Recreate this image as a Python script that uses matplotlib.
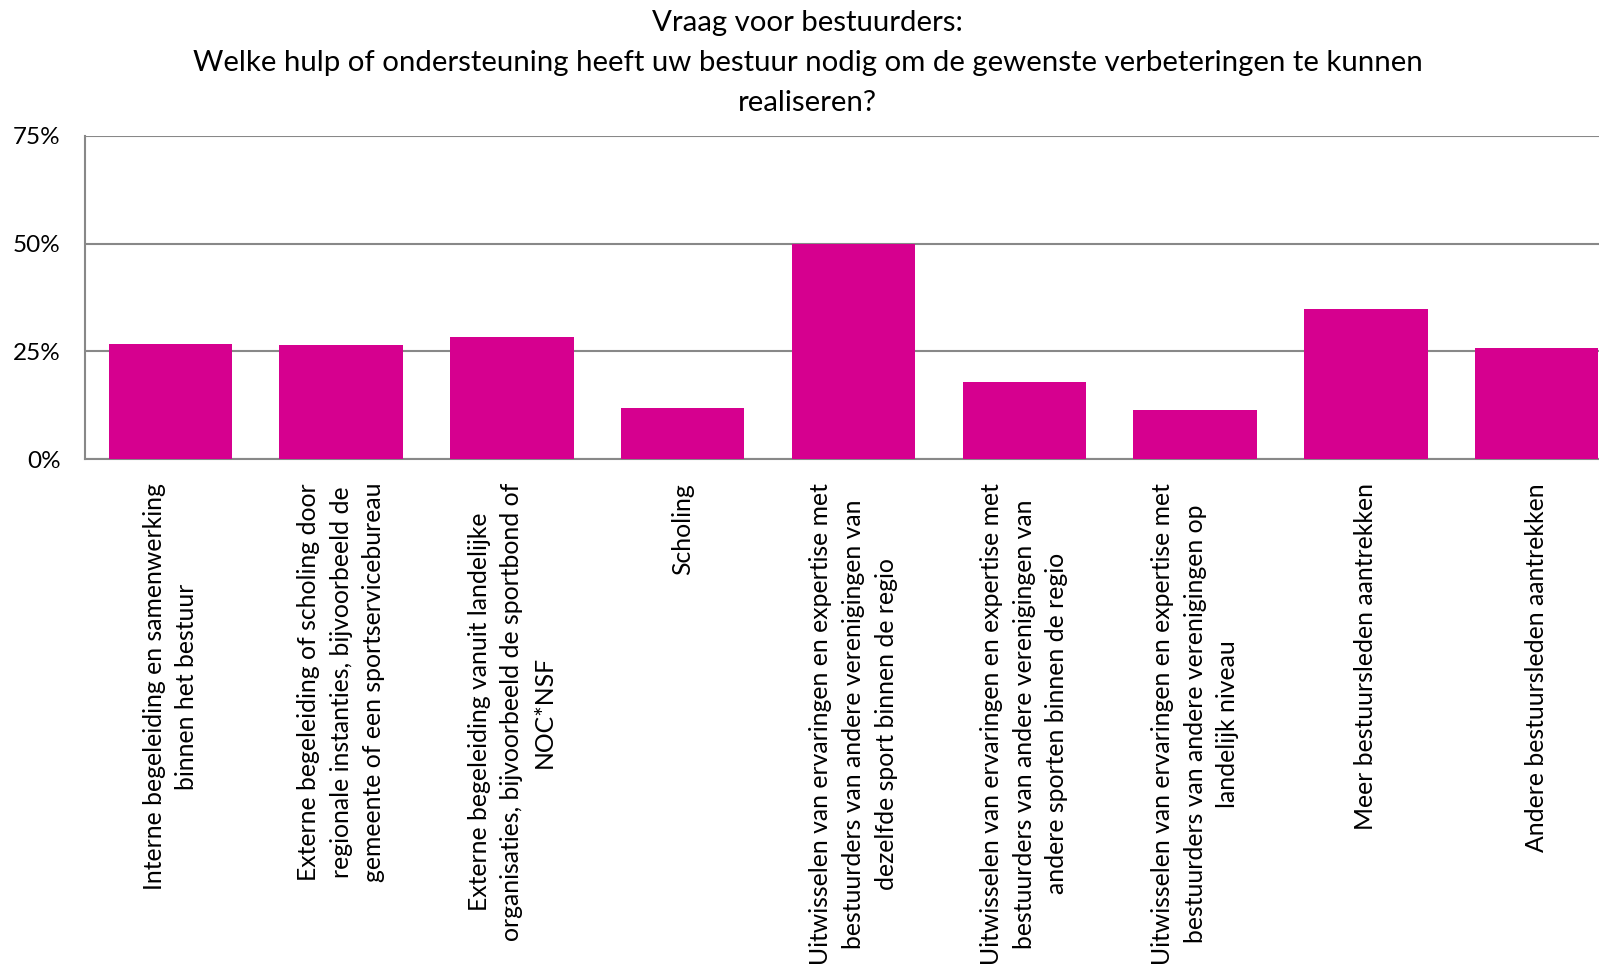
import matplotlib
matplotlib.use("Agg")
import matplotlib.pyplot as plt

plt.rcParams['font.family'] = ['Lato', 'DejaVu Sans']

categories = [
    "Interne begeleiding en samenwerking\nbinnen het bestuur",
    "Externe begeleiding of scholing door\nregionale instanties, bijvoorbeeld de\ngemeente of een sportservicebureau",
    "Externe begeleiding vanuit landelijke\norganisaties, bijvoorbeeld de sportbond of\nNOC*NSF",
    "Scholing",
    "Uitwisselen van ervaringen en expertise met\nbestuurders van andere verenigingen van\ndezelfde sport binnen de regio",
    "Uitwisselen van ervaringen en expertise met\nbestuurders van andere verenigingen van\nandere sporten binnen de regio",
    "Uitwisselen van ervaringen en expertise met\nbestuurders van andere verenigingen op\nlandelijk niveau",
    "Meer bestuursleden aantrekken",
    "Andere bestuursleden aantrekken",
]
values = [26.7, 26.4, 28.3, 12.0, 49.8, 17.9, 11.4, 34.8, 25.9]
y_ticks = [0, 25, 50, 75]
y_labels = ["0%", "25%", "50%", "75%"]

title = ("Vraag voor bestuurders:\n"
         "Welke hulp of ondersteuning heeft uw bestuur nodig om de gewenste verbeteringen te kunnen\n"
         "realiseren?")

fig = plt.figure(figsize=(15.99, 9.64), dpi=100)
# plot area runs past the right edge, like the original crop
ax = fig.add_axes([85 / 1599, 1 - 459.3 / 964, 1537 / 1599, 323.6 / 964])

grid_color = "#888888"
x = range(len(values))
ax.bar(x, values, width=0.723, color="#D6008F", zorder=3)

ax.set_xlim(-0.5, len(values) - 0.5)
ax.set_ylim(0, 75)
ax.set_yticks(y_ticks)
ax.set_yticklabels(y_labels, fontsize=17.5)
ax.yaxis.grid(True, color=grid_color, linewidth=1.5, zorder=0)
ax.set_xticks(list(x))
ax.set_xticklabels(categories, rotation=90, fontsize=17.8, ha="center",
                   va="top", multialignment="center", linespacing=1.5)
ax.tick_params(axis="both", length=0)
ax.tick_params(axis="y", pad=17.5)
ax.tick_params(axis="x", pad=17)

for side in ["top", "right"]:
    ax.spines[side].set_visible(False)
for side in ["left", "bottom"]:
    ax.spines[side].set_color(grid_color)
    ax.spines[side].set_linewidth(1.5)

fig.text(0.505, 0.99, title, ha="center", va="top", fontsize=21.2,
         linespacing=1.67)

fig.savefig("out.png", dpi=100)
